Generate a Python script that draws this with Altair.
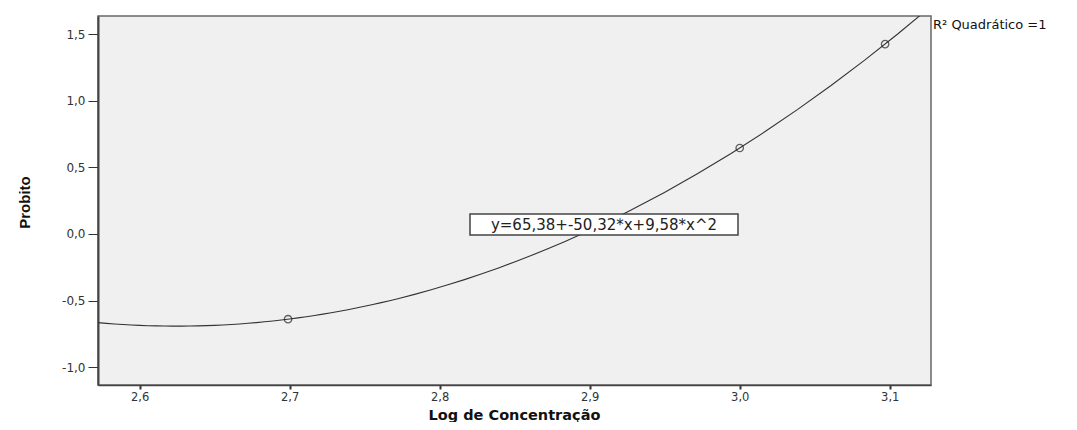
import altair as alt
import pandas as pd

# ---- data ----
log_conc = [2.69897, 3.0, 3.09691]
probit = [-0.64, 0.645, 1.425]

x_ticks = [2.6, 2.7, 2.8, 2.9, 3.0, 3.1]
y_ticks = [-1.0, -0.5, 0.0, 0.5, 1.0, 1.5]
x_domain = [2.5723, 3.1275]
y_domain = [-1.134, 1.636]

x_title = "Log de Concentração"
y_title = "Probito"
equation_label = "y=65,38+-50,32*x+9,58*x^2"
r2_label = "R² Quadrático =1"

W, H = 833, 369

df = pd.DataFrame({"x": log_conc, "y": probit})
one = pd.DataFrame({"k": [0]})

label_expr = "replace(replace(format(datum.value, '.1f'), '.', ','), '\u2212', '-')"

xscale = alt.Scale(domain=x_domain, nice=False, zero=False)
yscale = alt.Scale(domain=y_domain, nice=False, zero=False)

xaxis = alt.Axis(
    values=x_ticks, labelExpr=label_expr, grid=False,
    tickSize=4, tickWidth=2, tickColor="#333", labelPadding=2,
    labelFont="DejaVu Sans", labelFontSize=11.5, labelColor="#333",
    domainColor="#444", domainWidth=1.5,
    title=x_title, titleFont="DejaVu Sans", titleFontSize=14.5, titleFontWeight="bold",
    titleColor="#111", titleX=416, titleY=34, titleBaseline="alphabetic", titleAlign="center",
)
yaxis = alt.Axis(
    values=y_ticks, labelExpr=label_expr, grid=False,
    tickSize=10, tickWidth=1, tickColor="#333", labelPadding=3,
    labelFont="DejaVu Sans", labelFontSize=12, labelColor="#333",
    domainColor="#444", domainWidth=2,
    title=y_title, titleFont="Liberation Sans Narrow, Liberation Sans", titleFontSize=15,
    titleFontWeight="bold", titleColor="#111", titleX=-74, titleY=186,
    titleAngle=270, titleBaseline="middle", titleAlign="center",
)

base = alt.Chart(df)

curve = base.transform_regression(
    "x", "y", method="poly", order=2, extent=x_domain
).mark_line(color="#333", strokeWidth=1.1, clip=True).encode(
    x=alt.X("x:Q", scale=xscale, axis=xaxis),
    y=alt.Y("y:Q", scale=yscale, axis=yaxis),
)

points = base.mark_point(
    shape="circle", filled=False, size=55, color="#222", strokeWidth=1.3
).encode(x=alt.X("x:Q", scale=xscale), y=alt.Y("y:Q", scale=yscale))

box = alt.Chart(one).mark_rect(
    fill="white", stroke="#444", strokeWidth=1.5
).encode(x=alt.value(372), x2=alt.value(640), y=alt.value(198), y2=alt.value(219))

eq_text = alt.Chart(one).mark_text(
    text=equation_label, font="DejaVu Sans", fontSize=15, color="#222",
    align="center", baseline="middle"
).encode(x=alt.value(506), y=alt.value(209))

r2_text = alt.Chart(one).mark_text(
    text=r2_label, font="DejaVu Sans", fontSize=13, color="#111",
    align="left", baseline="alphabetic"
).encode(x=alt.value(835), y=alt.value(13))

chart = alt.layer(curve, points, box, eq_text, r2_text).properties(
    width=W, height=H,
    background="white",
    autosize=alt.AutoSizeParams(type="none"),
    padding={"left": 90, "top": 8, "right": 138, "bottom": 37},
).configure_view(
    fill="#F0F0F0", stroke="#666", strokeWidth=1.5
)

chart.save("out.html", embed_options={"renderer": "svg", "actions": False})
